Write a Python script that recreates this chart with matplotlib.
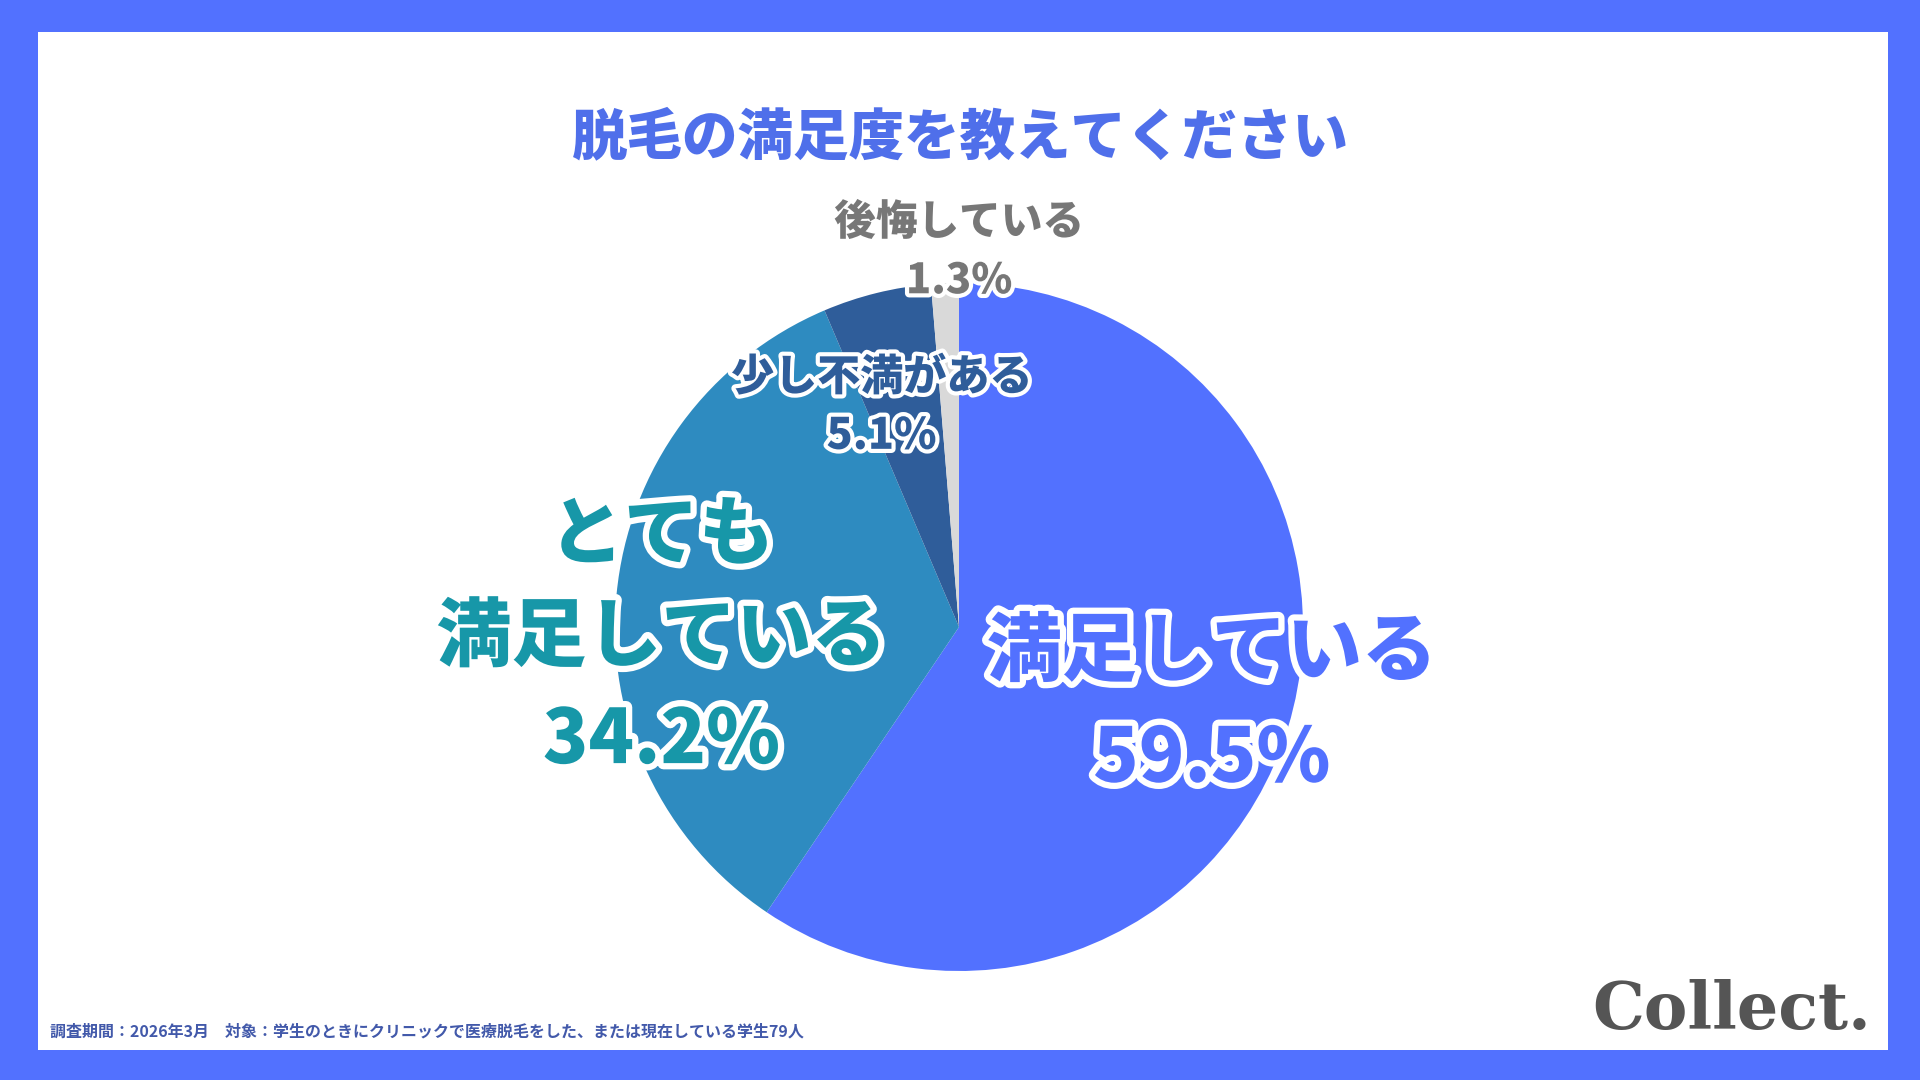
import matplotlib
matplotlib.use("Agg")
import matplotlib.pyplot as plt
import matplotlib.patheffects as pe
from matplotlib.patches import Rectangle

plt.rcParams['font.family'] = ['Noto Sans CJK JP', 'DejaVu Sans']

title = '脱毛の満足度を教えてください'
labels = ['満足している', 'とても\n満足している', '少し不満がある', '後悔している']
values = [59.5, 34.2, 5.1, 1.3]
slice_colors = ['#5271FF', '#2E8BC0', '#2F5D9A', '#D9D9D9']
text_colors = ['#5271FF', '#1797A8', '#2F5D9A', '#777777']
footnote = '調査期間：2026年3月　対象：学生のときにクリニックで医療脱毛をした、または現在している学生79人'

fig = plt.figure(figsize=(19.2, 10.8), dpi=100)
fig.patch.set_facecolor('#5271FF')
fig.patches.append(Rectangle((38 / 1920, 30 / 1080), 1850 / 1920, 1018 / 1080,
                             transform=fig.transFigure, facecolor='white',
                             edgecolor='none', zorder=-5))

# pie axes: 1 data unit = 344 px, centre at (959, 627) px from top-left
S = 2.6 * 344
ax = fig.add_axes([(959 - S / 2) / 1920, (453 - S / 2) / 1080, S / 1920, S / 1080])
ax.set_zorder(2)

ax.pie(values, colors=slice_colors, startangle=90, counterclock=False,
       wedgeprops=dict(linewidth=0))
ax.set_xlim(-1.3, 1.3)
ax.set_ylim(-1.3, 1.3)
ax.set_aspect('equal')
ax.axis('off')

# label placement (radius units) and sizes
label_xy = [(0.735, -0.23), (-0.865, -0.03), (-0.225, 0.64), (0.0, 1.09)]
name_size = [54, 54, 31, 30]
line_gap = [0.31, 0.30, 0.17, 0.17]
stroke = [9, 9, 6, 6]

for i in range(len(values)):
    x, y = label_xy[i]
    fx = [pe.withStroke(linewidth=stroke[i], foreground='white')]
    if '\n' in labels[i]:
        ty, py = y + 0.146, y - 0.301
    else:
        ty, py = y + line_gap[i] * 0.5, y - line_gap[i] * 0.5
    ax.text(x, ty, labels[i], ha='center', va='center', fontsize=name_size[i],
            fontweight='heavy', color=text_colors[i], path_effects=fx,
            linespacing=1.42)
    ax.text(x, py, f'{values[i]}%', ha='center', va='center', fontsize=name_size[i],
            fontweight='heavy', color=text_colors[i], path_effects=fx)

fig.text(0.5, 1 - 138 / 1080, title, ha='center', va='center', fontsize=40,
         fontweight='heavy', color='#4F6FEA')
fig.text(50 / 1920, 1 - 1032 / 1080, footnote, ha='left', va='center',
         fontsize=11.5, fontweight='bold', color='#4259AA')
fig.text(1871 / 1920, 1 - 1011 / 1080, 'Collect.', ha='right', va='center',
         fontsize=47, fontweight='bold', color='#555555', family='DejaVu Serif')

fig.savefig('out.png', dpi=100, facecolor=fig.get_facecolor())
